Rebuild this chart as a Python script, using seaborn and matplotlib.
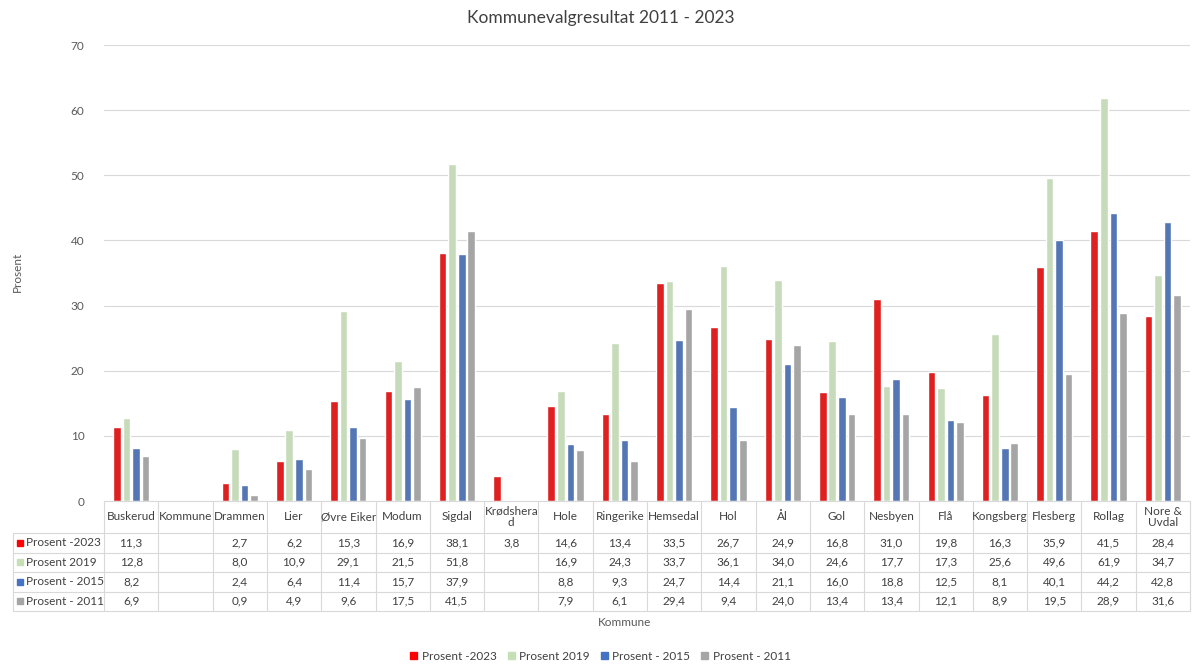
import numpy as np
import pandas as pd
import matplotlib.pyplot as plt
import matplotlib.transforms as mtransforms
import seaborn as sns

kommuner = ["Buskerud", "Kommune", "Drammen", "Lier", "Øvre Eiker", "Modum", "Sigdal",
            "Krødsherad", "Hole", "Ringerike", "Hemsedal", "Hol", "Ål", "Gol", "Nesbyen",
            "Flå", "Kongsberg", "Flesberg", "Rollag", "Nore & Uvdal"]
header_labels = ["Buskerud", "Kommune", "Drammen", "Lier", "Øvre Eiker", "Modum", "Sigdal",
                 "Krødshera\nd", "Hole", "Ringerike", "Hemsedal", "Hol", "Ål", "Gol", "Nesbyen",
                 "Flå", "Kongsberg", "Flesberg", "Rollag", "Nore &\nUvdal"]
nan = np.nan
p2023 = [11.3, nan, 2.7, 6.2, 15.3, 16.9, 38.1, 3.8, 14.6, 13.4, 33.5, 26.7, 24.9, 16.8, 31.0, 19.8, 16.3, 35.9, 41.5, 28.4]
p2019 = [12.8, nan, 8.0, 10.9, 29.1, 21.5, 51.8, nan, 16.9, 24.3, 33.7, 36.1, 34.0, 24.6, 17.7, 17.3, 25.6, 49.6, 61.9, 34.7]
p2015 = [8.2, nan, 2.4, 6.4, 11.4, 15.7, 37.9, nan, 8.8, 9.3, 24.7, 14.4, 21.1, 16.0, 18.8, 12.5, 8.1, 40.1, 44.2, 42.8]
p2011 = [6.9, nan, 0.9, 4.9, 9.6, 17.5, 41.5, nan, 7.9, 6.1, 29.4, 9.4, 24.0, 13.4, 13.4, 12.1, 8.9, 19.5, 28.9, 31.6]
serier = ["Prosent -2023", "Prosent 2019", "Prosent - 2015", "Prosent - 2011"]
farger = ["#FF0000", "#C5E0B4", "#4472C4", "#A5A5A5"]

df = pd.DataFrame({"Kommune": kommuner, serier[0]: p2023, serier[1]: p2019,
                   serier[2]: p2015, serier[3]: p2011})
long = df.melt(id_vars="Kommune", var_name="Serie", value_name="Prosent")

sns.set_style("white")
plt.rcParams['font.family'] = ['Lato', 'DejaVu Sans']

W, H = 1201, 664
fig = plt.figure(figsize=(W / 100, H / 100), dpi=100)
L, R, T, B = 104, 1190, 45, 501
ax = fig.add_axes([L / W, 1 - B / H, (R - L) / W, (B - T) / H])

sns.barplot(data=long, x="Kommune", y="Prosent", hue="Serie", order=kommuner,
            hue_order=serier, palette=farger, width=0.7, gap=0.2, ax=ax, legend=False)

ax.set_ylim(0, 70)
ax.set_xlim(-0.5, len(kommuner) - 0.5)
ax.set_yticks(range(0, 71, 10))
ax.yaxis.grid(True, color="#D9D9D9", linewidth=0.8)
ax.set_axisbelow(True)
for s in ["top", "right", "left"]:
    ax.spines[s].set_visible(False)
ax.spines["bottom"].set_color("#D9D9D9")
ax.tick_params(axis="y", length=0, labelsize=8.5, labelcolor="#595959", pad=14)
ax.tick_params(axis="x", length=0, labelbottom=False)
ax.set_xlabel("")
ax.set_ylabel("")

# datatabell under aksen
tr = mtransforms.blended_transform_factory(ax.transData, ax.transAxes)
ph = B - T
colw = (R - L) / len(kommuner)
x_lab0 = -0.5 - (L - 13) / colw
y_head = -32 / ph
row_h = 19.5 / ph
y_rows = [y_head - row_h * i for i in range(5)]
lc = "#D9D9D9"
tc = "#404040"
fs = 8.5

for y in y_rows:
    ax.plot([x_lab0, len(kommuner) - 0.5], [y, y], transform=tr, color=lc, lw=0.8, clip_on=False)
for i in range(len(kommuner) + 1):
    ax.plot([i - 0.5, i - 0.5], [0, y_rows[-1]], transform=tr, color=lc, lw=0.8, clip_on=False)
ax.plot([x_lab0, x_lab0], [y_head, y_rows[-1]], transform=tr, color=lc, lw=0.8, clip_on=False)

for i, lab in enumerate(header_labels):
    ax.text(i, y_head / 2, lab, transform=tr, ha="center", va="center", fontsize=fs,
            color=tc, linespacing=1.1)

for r, (serie, vals, c) in enumerate(zip(serier, [p2023, p2019, p2015, p2011], farger)):
    yc = (y_rows[r] + y_rows[r + 1]) / 2
    ax.plot([x_lab0 + 7 / colw], [yc], marker="s", markersize=5, color=c,
            transform=tr, clip_on=False)
    ax.text(x_lab0 + 13 / colw, yc, serie, transform=tr, ha="left", va="center",
            fontsize=fs, color=tc)
    for i, v in enumerate(vals):
        if not np.isnan(v):
            ax.text(i, yc, f"{v:.1f}".replace(".", ","), transform=tr, ha="center",
                    va="center", fontsize=fs, color=tc)

fig.text(0.5, 1 - 18 / H, "Kommunevalgresultat 2011 - 2023", ha="center", va="center",
         fontsize=12.5, color="#404040")
fig.text(17 / W, 1 - 272 / H, "Prosent", rotation=90, ha="center", va="center",
         fontsize=8.5, color="#595959")
fig.text(625 / W, 1 - 622 / H, "Kommune", ha="center", va="center", fontsize=8.5, color="#595959")

handles = [plt.Rectangle((0, 0), 1, 1, color=c) for c in farger]
fig.legend(handles, serier, loc="center", bbox_to_anchor=(0.5, 1 - 656 / H), ncol=4,
           frameon=False, fontsize=8.5, handlelength=0.6, handleheight=0.6,
           handletextpad=0.4, columnspacing=0.9, labelcolor=tc, borderpad=0)

fig.savefig("out.png", dpi=100)
